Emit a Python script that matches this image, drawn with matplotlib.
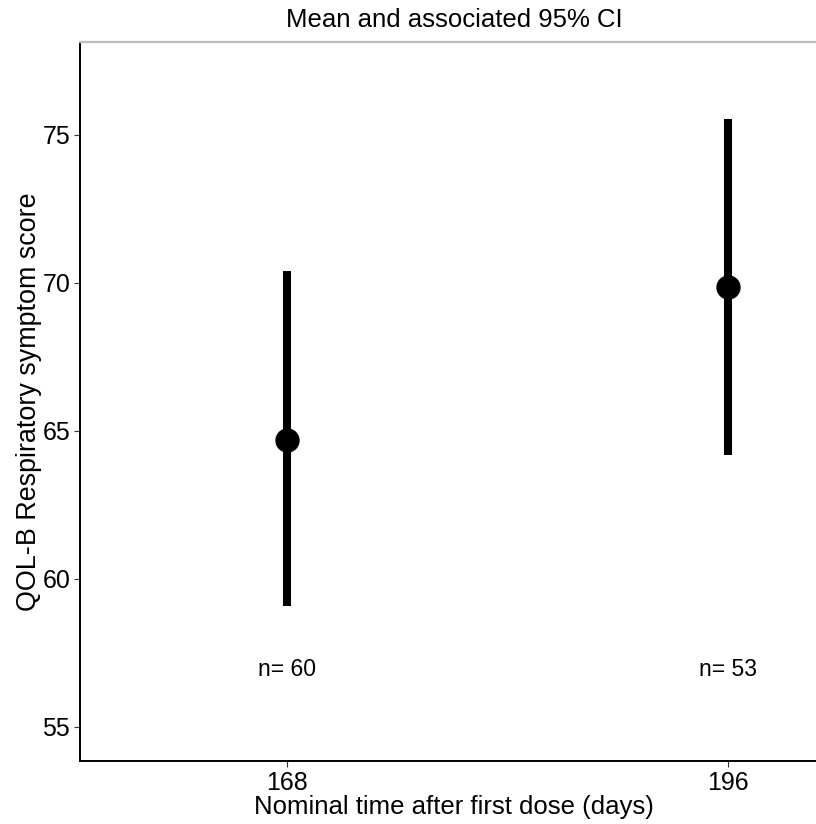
import matplotlib
matplotlib.use("Agg")
import matplotlib.pyplot as plt

# values
days = [168, 196]
means = [64.7, 69.85]
ci_low = [59.1, 64.2]
ci_high = [70.4, 75.55]
n_labels = ["n= 60", "n= 53"]
n_y = 56.95

plt.rcParams['font.family'] = ['Liberation Sans', 'DejaVu Sans']

fig = plt.figure(figsize=(8.16, 8.24), dpi=100)
# panel runs a little past the right edge of the figure (cropped like the original)
ax = fig.add_axes([80 / 816, 1 - 761 / 824, (828 - 80) / 816, (761 - 42) / 824])

for d, m, lo, hi in zip(days, means, ci_low, ci_high):
    ax.plot([d, d], [lo, hi], color='black', lw=5.8, solid_capstyle='butt', zorder=2)
    ax.plot(d, m, 'o', color='black', markersize=16.5, zorder=3)

for d, lab in zip(days, n_labels):
    ax.text(d, n_y, lab, ha='center', va='center', fontsize=16.5)

ax.set_xlim(154.86, 202.35)
ax.set_ylim(53.85, 78.14)
ax.set_xticks(days)
ax.set_yticks([55, 60, 65, 70, 75])
ax.tick_params(labelsize=18, length=4, width=0.8, pad=3, colors='#333333', labelcolor='black')

for s in ['left', 'bottom']:
    ax.spines[s].set_color('black')
    ax.spines[s].set_linewidth(1.4)
ax.spines['top'].set_color('#bebebe')
ax.spines['top'].set_linewidth(1.6)
ax.spines['right'].set_color('#bebebe')
ax.spines['right'].set_linewidth(1.6)

ax.set_xlabel('Nominal time after first dose (days)', fontsize=18.5, labelpad=0)
ax.set_ylabel('QOL-B Respiratory symptom score', fontsize=19.4, labelpad=0)
fig.text(454 / 816, 1 - 20 / 824, 'Mean and associated 95% CI', ha='center', va='center', fontsize=18.5)

fig.savefig('out.png', dpi=100)
